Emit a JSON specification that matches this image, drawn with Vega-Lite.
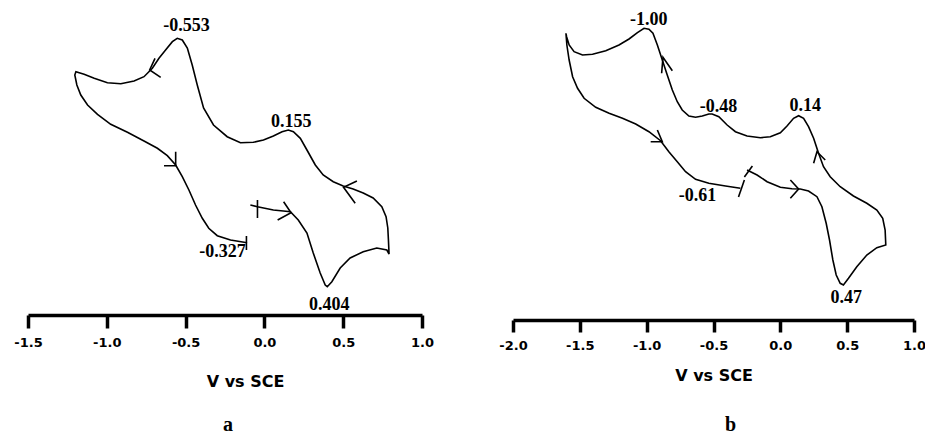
{
  "$schema": "https://vega.github.io/schema/vega-lite/v6.json",
  "background": "white",
  "padding": {"left": 13, "top": 5, "right": 0, "bottom": 0},
  "config": {"view": {"stroke": null}},
  "bounds": "flush",
  "spacing": 91,
  "datasets": {
    "curves": [
      {"p":"a","s":"a0","o":1,"v":-0.089,"i":11.0},
      {"p":"a","s":"a0","o":2,"v":-0.044,"i":10.83},
      {"p":"a","s":"a0","o":3,"v":0.057,"i":10.5},
      {"p":"a","s":"a0","o":4,"v":0.120,"i":10.4},
      {"p":"a","s":"a0","o":5,"v":0.165,"i":10.33},
      {"p":"a","s":"a0","o":6,"v":0.215,"i":9.5},
      {"p":"a","s":"a0","o":7,"v":0.270,"i":8.2},
      {"p":"a","s":"a0","o":8,"v":0.310,"i":6.2},
      {"p":"a","s":"a0","o":9,"v":0.354,"i":4.2},
      {"p":"a","s":"a0","o":10,"v":0.386,"i":3.0},
      {"p":"a","s":"a0","o":11,"v":0.399,"i":2.83},
      {"p":"a","s":"a0","o":12,"v":0.428,"i":3.33},
      {"p":"a","s":"a0","o":13,"v":0.481,"i":4.7},
      {"p":"a","s":"a0","o":14,"v":0.544,"i":5.7},
      {"p":"a","s":"a0","o":15,"v":0.627,"i":6.33},
      {"p":"a","s":"a0","o":16,"v":0.713,"i":6.7},
      {"p":"a","s":"a0","o":17,"v":0.777,"i":6.5},
      {"p":"a","s":"a0","o":18,"v":0.791,"i":6.1},
      {"p":"a","s":"a0","o":19,"v":0.787,"i":7.5},
      {"p":"a","s":"a0","o":20,"v":0.783,"i":8.7},
      {"p":"a","s":"a0","o":21,"v":0.772,"i":9.83},
      {"p":"a","s":"a0","o":22,"v":0.745,"i":10.83},
      {"p":"a","s":"a0","o":23,"v":0.690,"i":11.7},
      {"p":"a","s":"a0","o":24,"v":0.627,"i":12.2},
      {"p":"a","s":"a0","o":25,"v":0.563,"i":12.6},
      {"p":"a","s":"a0","o":26,"v":0.500,"i":12.9},
      {"p":"a","s":"a0","o":27,"v":0.437,"i":13.33},
      {"p":"a","s":"a0","o":28,"v":0.373,"i":14.0},
      {"p":"a","s":"a0","o":29,"v":0.323,"i":15.0},
      {"p":"a","s":"a0","o":30,"v":0.270,"i":16.5},
      {"p":"a","s":"a0","o":31,"v":0.228,"i":17.67},
      {"p":"a","s":"a0","o":32,"v":0.184,"i":18.33},
      {"p":"a","s":"a0","o":33,"v":0.152,"i":18.5},
      {"p":"a","s":"a0","o":34,"v":0.112,"i":18.33},
      {"p":"a","s":"a0","o":35,"v":0.057,"i":17.9},
      {"p":"a","s":"a0","o":36,"v":-0.006,"i":17.5},
      {"p":"a","s":"a0","o":37,"v":-0.070,"i":17.27},
      {"p":"a","s":"a0","o":38,"v":-0.152,"i":17.23},
      {"p":"a","s":"a0","o":39,"v":-0.236,"i":17.83},
      {"p":"a","s":"a0","o":40,"v":-0.323,"i":19.0},
      {"p":"a","s":"a0","o":41,"v":-0.386,"i":20.7},
      {"p":"a","s":"a0","o":42,"v":-0.426,"i":23.0},
      {"p":"a","s":"a0","o":43,"v":-0.458,"i":25.0},
      {"p":"a","s":"a0","o":44,"v":-0.489,"i":26.7},
      {"p":"a","s":"a0","o":45,"v":-0.521,"i":27.5},
      {"p":"a","s":"a0","o":46,"v":-0.553,"i":27.67},
      {"p":"a","s":"a0","o":47,"v":-0.584,"i":27.33},
      {"p":"a","s":"a0","o":48,"v":-0.627,"i":26.5},
      {"p":"a","s":"a0","o":49,"v":-0.669,"i":25.67},
      {"p":"a","s":"a0","o":50,"v":-0.711,"i":24.67},
      {"p":"a","s":"a0","o":51,"v":-0.764,"i":23.83},
      {"p":"a","s":"a0","o":52,"v":-0.827,"i":23.4},
      {"p":"a","s":"a0","o":53,"v":-0.911,"i":23.13},
      {"p":"a","s":"a0","o":54,"v":-0.996,"i":23.23},
      {"p":"a","s":"a0","o":55,"v":-1.080,"i":23.67},
      {"p":"a","s":"a0","o":56,"v":-1.144,"i":24.07},
      {"p":"a","s":"a0","o":57,"v":-1.196,"i":24.33},
      {"p":"a","s":"a0","o":58,"v":-1.203,"i":24.0},
      {"p":"a","s":"a0","o":59,"v":-1.190,"i":23.0},
      {"p":"a","s":"a0","o":60,"v":-1.165,"i":22.0},
      {"p":"a","s":"a0","o":61,"v":-1.122,"i":21.0},
      {"p":"a","s":"a0","o":62,"v":-1.059,"i":20.07},
      {"p":"a","s":"a0","o":63,"v":-0.975,"i":19.07},
      {"p":"a","s":"a0","o":64,"v":-0.869,"i":18.27},
      {"p":"a","s":"a0","o":65,"v":-0.764,"i":17.4},
      {"p":"a","s":"a0","o":66,"v":-0.679,"i":16.67},
      {"p":"a","s":"a0","o":67,"v":-0.616,"i":15.93},
      {"p":"a","s":"a0","o":68,"v":-0.563,"i":15.0},
      {"p":"a","s":"a0","o":69,"v":-0.521,"i":13.83},
      {"p":"a","s":"a0","o":70,"v":-0.479,"i":12.5},
      {"p":"a","s":"a0","o":71,"v":-0.437,"i":11.0},
      {"p":"a","s":"a0","o":72,"v":-0.394,"i":9.67},
      {"p":"a","s":"a0","o":73,"v":-0.353,"i":8.67},
      {"p":"a","s":"a0","o":74,"v":-0.299,"i":7.93},
      {"p":"a","s":"a0","o":75,"v":-0.215,"i":7.5},
      {"p":"a","s":"a0","o":76,"v":-0.110,"i":7.23},
      {"p":"a","s":"a1","o":1,"v":-0.044,"i":11.5},
      {"p":"a","s":"a1","o":2,"v":-0.044,"i":9.7},
      {"p":"a","s":"a2","o":1,"v":-0.114,"i":7.9},
      {"p":"a","s":"a2","o":2,"v":-0.114,"i":6.5},
      {"p":"a","s":"a3","o":1,"v":-0.694,"i":25.67},
      {"p":"a","s":"a3","o":2,"v":-0.728,"i":24.5},
      {"p":"a","s":"a3","o":3,"v":-0.658,"i":23.77},
      {"p":"a","s":"a4","o":1,"v":-0.563,"i":16.33},
      {"p":"a","s":"a4","o":2,"v":-0.563,"i":14.93},
      {"p":"a","s":"a4","o":3,"v":-0.637,"i":14.93},
      {"p":"a","s":"a5","o":1,"v":0.122,"i":11.33},
      {"p":"a","s":"a5","o":2,"v":0.169,"i":10.23},
      {"p":"a","s":"a5","o":3,"v":0.084,"i":9.5},
      {"p":"a","s":"a6","o":1,"v":0.587,"i":13.4},
      {"p":"a","s":"a6","o":2,"v":0.502,"i":12.77},
      {"p":"a","s":"a6","o":3,"v":0.576,"i":11.17},
      {"p":"b","s":"b0","o":1,"v":-0.249,"i":15.0},
      {"p":"b","s":"b0","o":2,"v":-0.174,"i":14.5},
      {"p":"b","s":"b0","o":3,"v":-0.099,"i":13.83},
      {"p":"b","s":"b0","o":4,"v":0.0,"i":13.27},
      {"p":"b","s":"b0","o":5,"v":0.087,"i":13.13},
      {"p":"b","s":"b0","o":6,"v":0.149,"i":13.1},
      {"p":"b","s":"b0","o":7,"v":0.211,"i":12.9},
      {"p":"b","s":"b0","o":8,"v":0.274,"i":12.33},
      {"p":"b","s":"b0","o":9,"v":0.311,"i":11.33},
      {"p":"b","s":"b0","o":10,"v":0.343,"i":9.67},
      {"p":"b","s":"b0","o":11,"v":0.368,"i":8.0},
      {"p":"b","s":"b0","o":12,"v":0.393,"i":6.0},
      {"p":"b","s":"b0","o":13,"v":0.418,"i":4.5},
      {"p":"b","s":"b0","o":14,"v":0.448,"i":3.67},
      {"p":"b","s":"b0","o":15,"v":0.472,"i":3.5},
      {"p":"b","s":"b0","o":16,"v":0.510,"i":4.17},
      {"p":"b","s":"b0","o":17,"v":0.572,"i":5.33},
      {"p":"b","s":"b0","o":18,"v":0.647,"i":6.5},
      {"p":"b","s":"b0","o":19,"v":0.722,"i":7.23},
      {"p":"b","s":"b0","o":20,"v":0.789,"i":7.5},
      {"p":"b","s":"b0","o":21,"v":0.784,"i":9.0},
      {"p":"b","s":"b0","o":22,"v":0.766,"i":10.17},
      {"p":"b","s":"b0","o":23,"v":0.722,"i":11.0},
      {"p":"b","s":"b0","o":24,"v":0.647,"i":11.67},
      {"p":"b","s":"b0","o":25,"v":0.547,"i":12.4},
      {"p":"b","s":"b0","o":26,"v":0.448,"i":13.33},
      {"p":"b","s":"b0","o":27,"v":0.373,"i":14.33},
      {"p":"b","s":"b0","o":28,"v":0.323,"i":15.33},
      {"p":"b","s":"b0","o":29,"v":0.286,"i":16.67},
      {"p":"b","s":"b0","o":30,"v":0.249,"i":18.17},
      {"p":"b","s":"b0","o":31,"v":0.211,"i":19.33},
      {"p":"b","s":"b0","o":32,"v":0.174,"i":20.17},
      {"p":"b","s":"b0","o":33,"v":0.137,"i":20.43},
      {"p":"b","s":"b0","o":34,"v":0.099,"i":20.17},
      {"p":"b","s":"b0","o":35,"v":0.050,"i":19.4},
      {"p":"b","s":"b0","o":36,"v":0.0,"i":18.73},
      {"p":"b","s":"b0","o":37,"v":-0.075,"i":18.33},
      {"p":"b","s":"b0","o":38,"v":-0.149,"i":18.23},
      {"p":"b","s":"b0","o":39,"v":-0.249,"i":18.4},
      {"p":"b","s":"b0","o":40,"v":-0.336,"i":18.83},
      {"p":"b","s":"b0","o":41,"v":-0.398,"i":19.5},
      {"p":"b","s":"b0","o":42,"v":-0.460,"i":20.33},
      {"p":"b","s":"b0","o":43,"v":-0.510,"i":20.6},
      {"p":"b","s":"b0","o":44,"v":-0.535,"i":20.6},
      {"p":"b","s":"b0","o":45,"v":-0.584,"i":20.4},
      {"p":"b","s":"b0","o":46,"v":-0.634,"i":20.27},
      {"p":"b","s":"b0","o":47,"v":-0.684,"i":20.4},
      {"p":"b","s":"b0","o":48,"v":-0.734,"i":21.0},
      {"p":"b","s":"b0","o":49,"v":-0.771,"i":21.83},
      {"p":"b","s":"b0","o":50,"v":-0.808,"i":23.0},
      {"p":"b","s":"b0","o":51,"v":-0.846,"i":24.5},
      {"p":"b","s":"b0","o":52,"v":-0.883,"i":26.0},
      {"p":"b","s":"b0","o":53,"v":-0.920,"i":27.5},
      {"p":"b","s":"b0","o":54,"v":-0.953,"i":28.67},
      {"p":"b","s":"b0","o":55,"v":-0.983,"i":29.07},
      {"p":"b","s":"b0","o":56,"v":-1.020,"i":29.17},
      {"p":"b","s":"b0","o":57,"v":-1.069,"i":28.73},
      {"p":"b","s":"b0","o":58,"v":-1.132,"i":28.1},
      {"p":"b","s":"b0","o":59,"v":-1.207,"i":27.5},
      {"p":"b","s":"b0","o":60,"v":-1.306,"i":26.93},
      {"p":"b","s":"b0","o":61,"v":-1.405,"i":26.57},
      {"p":"b","s":"b0","o":62,"v":-1.480,"i":26.5},
      {"p":"b","s":"b0","o":63,"v":-1.543,"i":26.83},
      {"p":"b","s":"b0","o":64,"v":-1.580,"i":27.5},
      {"p":"b","s":"b0","o":65,"v":-1.599,"i":28.33},
      {"p":"b","s":"b0","o":66,"v":-1.604,"i":28.67},
      {"p":"b","s":"b0","o":67,"v":-1.597,"i":27.5},
      {"p":"b","s":"b0","o":68,"v":-1.580,"i":26.0},
      {"p":"b","s":"b0","o":69,"v":-1.554,"i":24.33},
      {"p":"b","s":"b0","o":70,"v":-1.517,"i":23.17},
      {"p":"b","s":"b0","o":71,"v":-1.468,"i":22.17},
      {"p":"b","s":"b0","o":72,"v":-1.381,"i":21.27},
      {"p":"b","s":"b0","o":73,"v":-1.281,"i":20.67},
      {"p":"b","s":"b0","o":74,"v":-1.181,"i":20.17},
      {"p":"b","s":"b0","o":75,"v":-1.082,"i":19.6},
      {"p":"b","s":"b0","o":76,"v":-0.983,"i":18.83},
      {"p":"b","s":"b0","o":77,"v":-0.896,"i":17.93},
      {"p":"b","s":"b0","o":78,"v":-0.834,"i":16.83},
      {"p":"b","s":"b0","o":79,"v":-0.771,"i":15.83},
      {"p":"b","s":"b0","o":80,"v":-0.709,"i":14.83},
      {"p":"b","s":"b0","o":81,"v":-0.634,"i":14.07},
      {"p":"b","s":"b0","o":82,"v":-0.535,"i":13.67},
      {"p":"b","s":"b0","o":83,"v":-0.410,"i":13.4},
      {"p":"b","s":"b0","o":84,"v":-0.299,"i":13.17},
      {"p":"b","s":"b1","o":1,"v":-0.269,"i":14.3},
      {"p":"b","s":"b1","o":2,"v":-0.209,"i":15.4},
      {"p":"b","s":"b2","o":1,"v":-0.313,"i":12.3},
      {"p":"b","s":"b2","o":2,"v":-0.269,"i":14.0},
      {"p":"b","s":"b3","o":1,"v":-0.888,"i":24.67},
      {"p":"b","s":"b3","o":2,"v":-0.878,"i":26.27},
      {"p":"b","s":"b3","o":3,"v":-0.808,"i":24.93},
      {"p":"b","s":"b4","o":1,"v":-0.920,"i":19.0},
      {"p":"b","s":"b4","o":2,"v":-0.883,"i":17.83},
      {"p":"b","s":"b4","o":3,"v":-0.970,"i":17.83},
      {"p":"b","s":"b5","o":1,"v":0.249,"i":15.67},
      {"p":"b","s":"b5","o":2,"v":0.274,"i":16.83},
      {"p":"b","s":"b5","o":3,"v":0.336,"i":16.0},
      {"p":"b","s":"b6","o":1,"v":0.075,"i":14.0},
      {"p":"b","s":"b6","o":2,"v":0.137,"i":13.1},
      {"p":"b","s":"b6","o":3,"v":0.075,"i":12.17}
    ],
    "labels": [
      {"p":"a","t":"-0.553","v":-0.494,"i":28.9},
      {"p":"a","t":"0.155","v":0.171,"i":19.3},
      {"p":"a","t":"-0.327","v":-0.266,"i":6.3},
      {"p":"a","t":"0.404","v":0.411,"i":1.0},
      {"p":"b","t":"-1.00","v":-0.985,"i":30.0},
      {"p":"b","t":"-0.48","v":-0.463,"i":21.3},
      {"p":"b","t":"0.14","v":0.187,"i":21.4},
      {"p":"b","t":"-0.61","v":-0.619,"i":12.4},
      {"p":"b","t":"0.47","v":0.493,"i":2.2}
    ]
  },
  "hconcat": [
    {
      "width": 394,
      "height": 310,
      "title": {"text": "a", "orient": "bottom", "font": "Liberation Serif", "fontSize": 20, "fontWeight": "bold", "color": "black", "offset": 26, "dx": 3},
      "layer": [
        {
          "data": {"name": "curves"},
          "transform": [{"filter": "datum.p == 'a'"}],
          "mark": {"type": "line", "color": "black", "strokeWidth": 1.6},
          "encoding": {
            "x": {"field": "v", "type": "quantitative", "scale": {"domain": [-1.5, 1.0], "nice": false, "zero": false},
              "axis": {"title": "V vs SCE", "values": [-1.5, -1.0, -0.5, 0.0, 0.5, 1.0], "labelExpr": "replace(format(datum.value, '.1f'), '\u2212', '-')", "grid": false, "domainWidth": 3.5, "domainColor": "black", "tickWidth": 3.5, "tickColor": "black", "tickSize": 13, "labelFont": "DejaVu Sans", "labelFontWeight": "bold", "labelFontSize": 13, "labelColor": "black", "labelPadding": 8, "labelFlush": false, "labelOverlap": false, "titleFont": "DejaVu Sans", "titleFontWeight": "bold", "titleFontSize": 16, "titleColor": "black", "titlePadding": 24, "titleX": 217}},
            "y": {"field": "i", "type": "quantitative", "scale": {"domain": [0, 31], "nice": false, "zero": false}, "axis": null},
            "detail": {"field": "s"},
            "order": {"field": "o", "type": "quantitative"}
          }
        },
        {
          "data": {"name": "labels"},
          "transform": [{"filter": "datum.p == 'a'"}],
          "mark": {"type": "text", "font": "Liberation Serif", "fontWeight": "bold", "fontSize": 18, "baseline": "middle", "align": "center", "color": "black"},
          "encoding": {
            "x": {"field": "v", "type": "quantitative"},
            "y": {"field": "i", "type": "quantitative"},
            "text": {"field": "t"}
          }
        }
      ]
    },
    {
      "width": 401,
      "height": 315,
      "title": {"text": "b", "orient": "bottom", "font": "Liberation Serif", "fontSize": 20, "fontWeight": "bold", "color": "black", "offset": 32, "dx": 17},
      "layer": [
        {
          "data": {"name": "curves"},
          "transform": [{"filter": "datum.p == 'b'"}],
          "mark": {"type": "line", "color": "black", "strokeWidth": 1.6},
          "encoding": {
            "x": {"field": "v", "type": "quantitative", "scale": {"domain": [-2.0, 1.0], "nice": false, "zero": false},
              "axis": {"title": "V vs SCE", "values": [-2.0, -1.5, -1.0, -0.5, 0.0, 0.5, 1.0], "labelExpr": "replace(format(datum.value, '.1f'), '\u2212', '-')", "grid": false, "domainWidth": 3.5, "domainColor": "black", "tickWidth": 3.5, "tickColor": "black", "tickSize": 12, "labelFont": "DejaVu Sans", "labelFontWeight": "bold", "labelFontSize": 13, "labelColor": "black", "labelPadding": 7, "labelFlush": false, "labelOverlap": false, "titleFont": "DejaVu Sans", "titleFontWeight": "bold", "titleFontSize": 16, "titleColor": "black", "titlePadding": 15}},
            "y": {"field": "i", "type": "quantitative", "scale": {"domain": [0, 31.5], "nice": false, "zero": false}, "axis": null},
            "detail": {"field": "s"},
            "order": {"field": "o", "type": "quantitative"}
          }
        },
        {
          "data": {"name": "labels"},
          "transform": [{"filter": "datum.p == 'b'"}],
          "mark": {"type": "text", "font": "Liberation Serif", "fontWeight": "bold", "fontSize": 18, "baseline": "middle", "align": "center", "color": "black"},
          "encoding": {
            "x": {"field": "v", "type": "quantitative"},
            "y": {"field": "i", "type": "quantitative"},
            "text": {"field": "t"}
          }
        }
      ]
    }
  ]
}
